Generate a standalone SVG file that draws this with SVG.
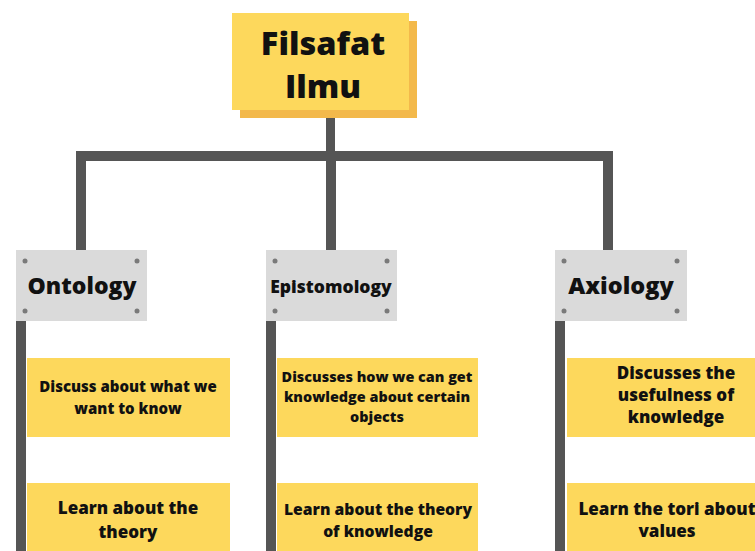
<svg xmlns="http://www.w3.org/2000/svg" width="755" height="551" viewBox="0 0 755 551">
<style>
text{font-family:"Open Sans","DejaVu Sans",sans-serif;font-weight:800;fill:#111;text-anchor:middle}
.gray{fill:#dadada}
.dot{fill:#7a7a7a}
.yel{fill:#fdd85c}
.bar{fill:#555}
</style>
<rect width="755" height="551" fill="#fff"/>
<g id="connectors">
<rect class="bar" x="326" y="116" width="9" height="44"/>
<rect class="bar" x="76" y="151" width="537" height="10"/>
<rect class="bar" x="76" y="151" width="10" height="100"/>
<rect class="bar" x="326" y="151" width="10" height="100"/>
<rect class="bar" x="603" y="151" width="10" height="100"/>
<rect class="bar" x="16" y="320" width="10" height="231"/>
<rect class="bar" x="266" y="320" width="10" height="231"/>
<rect class="bar" x="555" y="320" width="10" height="231"/>
</g>
<g id="root">
<rect x="240" y="21" width="177" height="97" fill="#f3b94b"/>
<rect x="232" y="13" width="177" height="97" fill="#fdd85c"/>
<text x="323" y="55" style="font-size:32.5px">Filsafat</text>
<text x="323" y="98" style="font-size:32.5px">Ilmu</text>
</g>
<g id="ontology">
<rect class="gray" x="16" y="250" width="131" height="71"/>
<circle class="dot" cx="25" cy="261" r="2.5"/><circle class="dot" cx="137" cy="261" r="2.5"/>
<circle class="dot" cx="25" cy="311" r="2.5"/><circle class="dot" cx="137" cy="311" r="2.5"/>
<text x="82" y="294" style="font-size:23px">Ontology</text>
</g>
<g id="epistomology">
<rect class="gray" x="266" y="250" width="131" height="71"/>
<circle class="dot" cx="275" cy="261" r="2.5"/><circle class="dot" cx="387" cy="261" r="2.5"/>
<circle class="dot" cx="275" cy="311" r="2.5"/><circle class="dot" cx="387" cy="311" r="2.5"/>
<text x="331" y="293" style="font-size:17.5px">Epistomology</text>
</g>
<g id="axiology">
<rect class="gray" x="555" y="250" width="132" height="71"/>
<circle class="dot" cx="564" cy="261" r="2.5"/><circle class="dot" cx="677" cy="261" r="2.5"/>
<circle class="dot" cx="564" cy="311" r="2.5"/><circle class="dot" cx="677" cy="311" r="2.5"/>
<text x="621" y="294" style="font-size:23.5px">Axiology</text>
</g>
<g id="onto1">
<rect class="yel" x="27" y="358" width="203" height="79"/>
<text x="128" y="392" style="font-size:15px">Discuss about what we</text>
<text x="128" y="414" style="font-size:15px">want to know</text>
</g>
<g id="onto2">
<rect class="yel" x="27" y="483" width="203" height="80"/>
<text x="128" y="514" style="font-size:17px">Learn about the</text>
<text x="128" y="538" style="font-size:17px">theory</text>
</g>
<g id="epi1">
<rect class="yel" x="277" y="358" width="201" height="79"/>
<text x="377" y="382" style="font-size:14.4px">Discusses how we can get</text>
<text x="377" y="402" style="font-size:14.4px">knowledge about certain</text>
<text x="377" y="422" style="font-size:14.4px">objects</text>
</g>
<g id="epi2">
<rect class="yel" x="277" y="483" width="201" height="80"/>
<text x="378" y="515" style="font-size:15.7px">Learn about the theory</text>
<text x="378" y="537" style="font-size:15.7px">of knowledge</text>
</g>
<g id="axio1">
<rect class="yel" x="567" y="358" width="203" height="79"/>
<text x="676" y="379" style="font-size:17px">Discusses the</text>
<text x="676" y="401" style="font-size:17px">usefulness of</text>
<text x="676" y="423" style="font-size:17px">knowledge</text>
</g>
<g id="axio2">
<rect class="yel" x="567" y="483" width="203" height="80"/>
<text x="667" y="515" style="font-size:17px">Learn the tori about</text>
<text x="667" y="537" style="font-size:17px">values</text>
</g>
</svg>
